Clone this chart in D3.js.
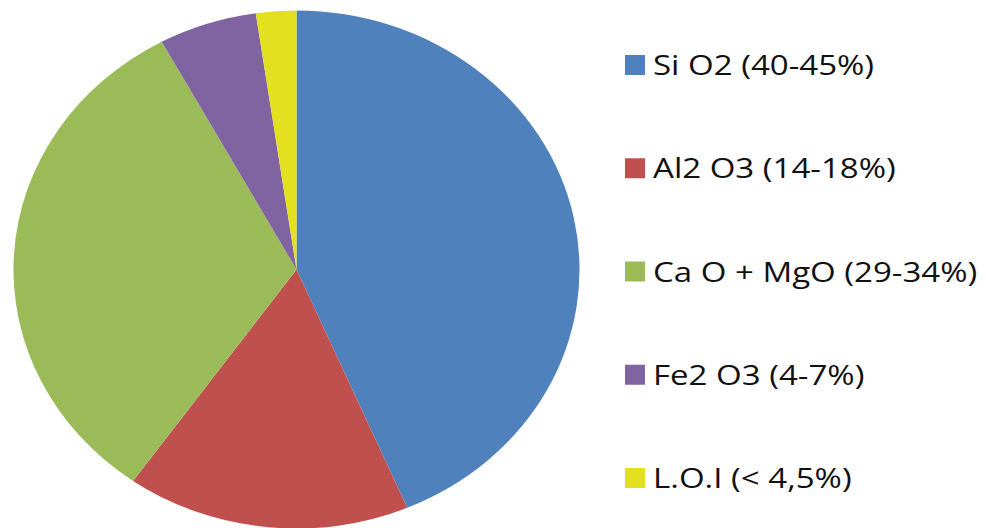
<!DOCTYPE html>
<html>
<head>
<meta charset="utf-8">
<script src="https://cdn.jsdelivr.net/npm/d3@7"></script>
<style>
  body { margin: 0; background: #fff; }
  svg { display: block; }
  .legend text { font-family: "Open Sans", sans-serif; font-size: 28px; fill: #111; }
</style>
</head>
<body>
<div id="chart"></div>
<script>
const labels = ["Si O2 (40-45%)", "Al2 O3 (14-18%)", "Ca O + MgO (29-34%)", "Fe2 O3 (4-7%)", "L.O.I (< 4,5%)"];
const values = [43.6, 16.2, 32.3, 5.6, 2.3];
const colors = ["#4f81bd", "#c0504d", "#9bbb59", "#8064a2", "#e2e01f"];

const width = 986, height = 528;
const cx = 296.5, cy = 269.5, rx = 283, ry = 259;

const svg = d3.select("#chart").append("svg")
  .attr("width", width)
  .attr("height", height);

const pie = d3.pie().sort(null).value(d => d);
const arc = d3.arc().innerRadius(0).outerRadius(ry);
const color = d3.scaleOrdinal().domain(labels).range(colors);

svg.append("g")
  .attr("transform", "translate(" + cx + "," + cy + ") scale(" + (rx / ry) + ",1)")
  .selectAll("path")
  .data(pie(values))
  .enter().append("path")
  .attr("d", arc)
  .attr("fill", (d, i) => color(labels[i]));

// legend
const y = d3.scalePoint().domain(labels).range([65, 478]);
const legend = svg.append("g").attr("class", "legend")
  .selectAll("g")
  .data(labels)
  .enter().append("g")
  .attr("transform", d => "translate(625," + y(d) + ")");

legend.append("rect")
  .attr("x", 0).attr("y", -10)
  .attr("width", 20).attr("height", 20)
  .attr("fill", d => color(d));

// the original is stretched sideways, so widen the text to match
legend.append("text")
  .attr("transform", "translate(28,10) scale(1.18,1)")
  .text(d => d);
</script>
</body>
</html>
